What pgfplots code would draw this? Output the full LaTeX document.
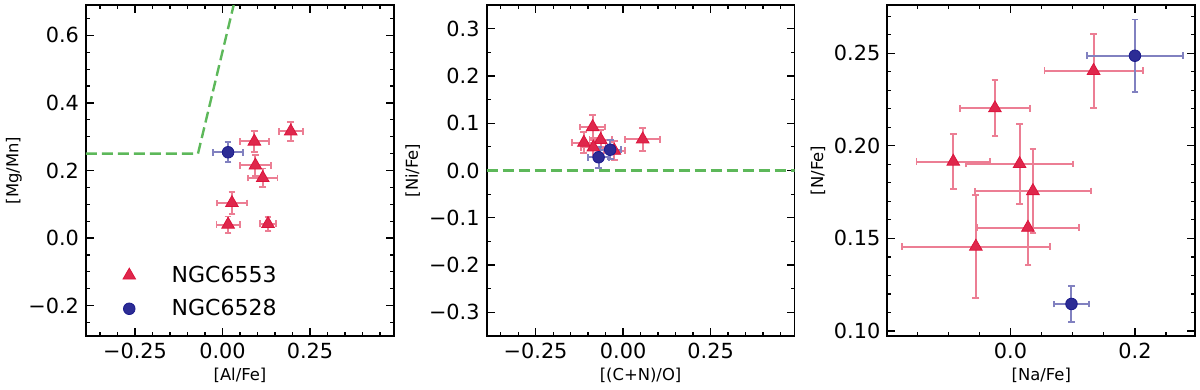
\documentclass[border=0pt]{standalone}
\usepackage{fontspec}
\setmainfont{DejaVu Sans}
\usepackage{pgfplots}
\pgfplotsset{compat=1.18}
\definecolor{crim}{HTML}{DC143C}
\definecolor{nav}{HTML}{1A1A8C}
\definecolor{grn}{HTML}{5DB85A}

\pgfplotsset{
  panel/.style={
    scale only axis, width=154pt, height=165.5pt, anchor=south west,
    tick align=inside, xtick pos=both, ytick pos=both,
    major tick length=4pt, minor tick length=2pt,
    every tick/.style={black, line width=0.6pt},
    axis line style={line width=0.9pt},
    tick label style={font=\fontsize{10.4}{12}\selectfont},
    label style={font=\fontsize{8.2}{10}\selectfont},
  },
  ngcA/.style={only marks, mark=triangle*, mark size=3.65pt, color=crim,
    mark options={fill=crim!92!white, draw=crim},
    error bars/.cd, x dir=both, x explicit, y dir=both, y explicit,
    error bar style={crim!55!white, line width=1pt},
    error mark options={rotate=90, mark size=1.7pt, line width=0.9pt, crim!55!white}},
  ngcB/.style={only marks, mark=*, mark size=2.9pt, color=nav,
    mark options={fill=nav!92!white, draw=nav},
    error bars/.cd, x dir=both, x explicit, y dir=both, y explicit,
    error bar style={nav!55!white, line width=1pt},
    error mark options={rotate=90, mark size=1.7pt, line width=0.9pt, nav!55!white}},
  guide/.style={grn, line width=1.2pt, dash pattern=on 5.5pt off 2.5pt, forget plot},
}

\begin{document}
\begin{tikzpicture}
% panel 1: [Mg/Mn] vs [Al/Fe]
\begin{axis}[panel, at={(43pt,27pt)},
  xmin=-0.39, xmax=0.49, ymin=-0.29, ymax=0.69,
  xtick={-0.25,0,0.25}, xticklabels={−0.25,0.00,0.25},
  minor xtick={-0.35,-0.3,-0.2,-0.15,-0.1,-0.05,0.05,0.1,0.15,0.2,0.3,0.35,0.4,0.45},
  ytick={-0.2,0,0.2,0.4,0.6}, yticklabels={−0.2,0.0,0.2,0.4,0.6},
  minor ytick={-0.25,-0.15,-0.1,-0.05,0.05,0.1,0.15,0.25,0.3,0.35,0.45,0.5,0.55,0.65},
  xlabel={[Al/Fe]}, ylabel={[Mg/Mn]},
  xlabel style={at={(axis description cs:0.5,-0.118)}, anchor=center},
  ylabel style={at={(axis description cs:-0.234,0.5)}, anchor=center},
  legend style={at={(axis description cs:0.0925,0.2345)}, anchor=north west,
    draw=none, fill=none, font=\fontsize{11}{13}\selectfont,
    row sep=4pt, nodes={inner sep=1.5pt}},
  legend image code/.code={\draw[#1] plot coordinates {(0pt,0pt)}; \path (-4pt,0pt) (19.5pt,0pt);},
]
\addplot[guide] coordinates {(-0.39,0.25) (-0.07,0.25) (0.032,0.69)};
\addplot[ngcA] table[x=x, y=y, x error=ex, y error=ey] {
x      y      ex     ey
0.195  0.316  0.034  0.028
0.091  0.286  0.041  0.032
0.094  0.215  0.044  0.032
0.115  0.178  0.042  0.028
0.027  0.104  0.042  0.032
0.016  0.040  0.033  0.024
0.130  0.042  0.023  0.020
};
\addplot[ngcB] table[x=x, y=y, x error=ex, y error=ey] {
x      y      ex     ey
0.016  0.254  0.042  0.030
};
\legend{NGC6553, NGC6528}
\end{axis}

% panel 2: [Ni/Fe] vs [(C+N)/O]
\begin{axis}[panel, at={(243.3pt,27pt)},
  xmin=-0.39, xmax=0.49, ymin=-0.35, ymax=0.35,
  xtick={-0.25,0,0.25}, xticklabels={−0.25,0.00,0.25},
  minor xtick={-0.35,-0.3,-0.2,-0.15,-0.1,-0.05,0.05,0.1,0.15,0.2,0.3,0.35,0.4,0.45},
  ytick={-0.3,-0.2,-0.1,0,0.1,0.2,0.3}, yticklabels={−0.3,−0.2,−0.1,0.0,0.1,0.2,0.3},
  minor ytick={-0.25,-0.15,-0.05,0.05,0.15,0.25},
  xlabel={[(C+N)/O]}, ylabel={[Ni/Fe]},
  xlabel style={at={(axis description cs:0.5,-0.118)}, anchor=center},
  ylabel style={at={(axis description cs:-0.24,0.5)}, anchor=center},
]
\addplot[guide] coordinates {(-0.39,0) (0.49,0)};
\addplot[ngcA] table[x=x, y=y, x error=ex, y error=ey] {
x       y      ex     ey
-0.025  0.042  0.030  0.020
-0.087  0.092  0.035  0.025
-0.112  0.059  0.033  0.022
-0.064  0.065  0.032  0.020
-0.085  0.049  0.035  0.020
0.056   0.066  0.050  0.024
};
\addplot[ngcB] table[x=x, y=y, x error=ex, y error=ey] {
x       y      ex     ey
-0.070  0.028  0.030  0.022
-0.037  0.044  0.030  0.020
};
\end{axis}

% panel 3: [N/Fe] vs [Na/Fe]
\begin{axis}[panel, at={(443.65pt,27pt)},
  xmin=-0.198, xmax=0.297, ymin=0.0973, ymax=0.276,
  xtick={0,0.2}, xticklabels={0.0,0.2},
  minor xtick={-0.15,-0.1,-0.05,0.05,0.1,0.15,0.25},
  ytick={0.10,0.15,0.20,0.25}, yticklabels={0.10,0.15,0.20,0.25},
  minor ytick={0.11,0.12,0.13,0.14,0.16,0.17,0.18,0.19,0.21,0.22,0.23,0.24,0.26,0.27},
  xlabel={[Na/Fe]}, ylabel={[N/Fe]},
  xlabel style={at={(axis description cs:0.5,-0.118)}, anchor=center},
  ylabel style={at={(axis description cs:-0.225,0.5)}, anchor=center},
]
\addplot[ngcA] table[x=x, y=y, x error=ex, y error=ey] {
x        y       ex     ey
0.1335   0.2405  0.079  0.020
-0.025   0.2203  0.056  0.015
-0.092   0.1915  0.059  0.015
0.0146   0.1902  0.086  0.0215
0.036    0.1756  0.093  0.0228
0.028    0.1558  0.082  0.020
-0.0557  0.1456  0.119  0.028
};
\addplot[ngcB] table[x=x, y=y, x error=ex, y error=ey] {
x       y       ex     ey
0.200   0.2486  0.077  0.0196
0.098   0.1146  0.028  0.0096
};
\end{axis}
\pgfresetboundingbox
\useasboundingbox (0,0) rectangle (600pt,195pt);
\end{tikzpicture}
\end{document}
